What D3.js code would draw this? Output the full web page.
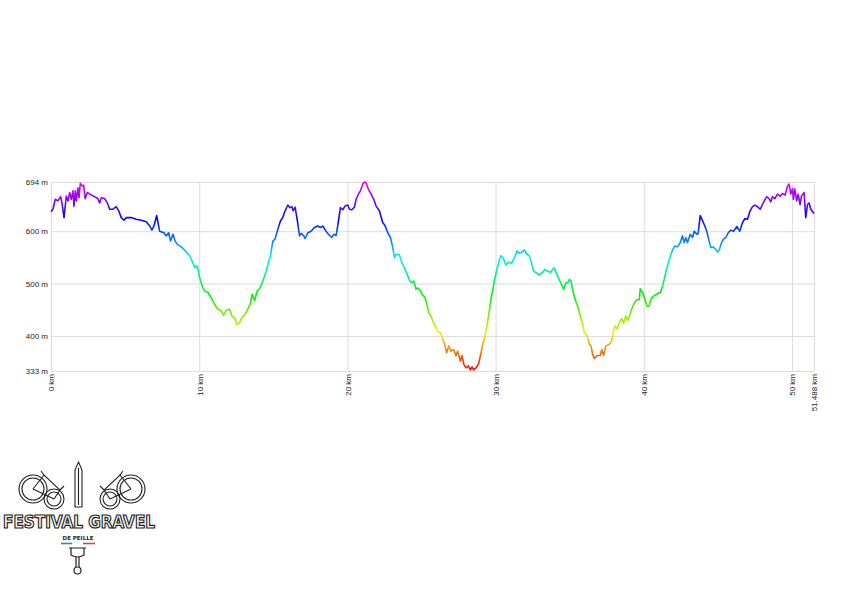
<!DOCTYPE html>
<html>
<head>
<meta charset="utf-8">
<script src="https://cdn.jsdelivr.net/npm/d3@7"></script>
<style>
  html, body { margin: 0; padding: 0; background: #fff; }
  svg { display: block; }
  .tick text { font-family: "Liberation Sans", Arial, sans-serif; font-size: 8px; fill: #222; }
</style>
</head>
<body>
<svg id="chart" width="845" height="592"></svg>
<script>
// ---- data (distance in km, elevation in m) ----
const distanceKm = [
  0,0.13,0.29,0.47,0.65,0.74,0.88,1.03,1.15,1.26,1.37,1.48,1.55,1.64,1.71,1.82,1.89,1.98,2.11,2.20,
  2.31,2.45,2.72,2.95,3.17,3.28,3.39,3.62,3.80,3.96,4.18,4.40,4.57,4.74,4.92,5.08,5.41,5.75,6.09,6.43,
  6.66,6.81,6.95,7.13,7.33,7.62,7.77,7.94,8.07,8.23,8.38,8.52,8.79,9.02,9.24,9.37,9.58,9.73,9.87,10.03,
  10.25,10.36,10.59,10.81,11.04,11.26,11.48,11.65,11.82,12.05,12.21,12.39,12.54,12.72,12.88,13.10,13.33,13.47,13.57,13.74,
  13.91,14.07,14.30,14.52,14.70,14.81,14.97,15.12,15.31,15.49,15.64,15.80,15.98,16.12,16.25,16.34,16.47,16.61,16.77,16.88,
  17.06,17.15,17.33,17.55,17.78,18.00,18.19,18.34,18.56,18.79,18.95,19.08,19.24,19.35,19.53,19.69,19.84,20.03,20.14,20.30,
  20.48,20.59,20.75,20.88,21.04,21.15,21.26,21.42,21.60,21.78,21.94,22.16,22.23,22.39,22.54,22.72,22.91,23.06,23.18,23.28,
  23.51,23.67,23.85,24.03,24.21,24.34,24.48,24.63,24.75,24.93,25.08,25.24,25.37,25.49,25.64,25.76,25.91,26.10,26.28,26.43,
  26.59,26.70,26.84,26.99,27.17,27.33,27.44,27.63,27.74,27.85,28.00,28.17,28.30,28.41,28.52,28.68,28.84,28.98,29.13,29.24,
  29.35,29.47,29.58,29.69,29.80,29.92,30.09,30.26,30.36,30.52,30.70,30.86,31.09,31.27,31.44,31.60,31.76,31.94,32.12,32.28,
  32.43,32.57,32.72,32.95,33.18,33.33,33.51,33.70,33.85,33.97,34.15,34.37,34.59,34.75,34.86,34.98,35.09,35.22,35.36,35.54,
  35.72,35.88,35.99,36.17,36.33,36.44,36.55,36.67,36.84,37.07,37.16,37.29,37.44,37.67,37.83,37.96,38.05,38.19,38.35,38.50,
  38.64,38.79,38.91,39.04,39.18,39.36,39.53,39.70,39.76,39.92,40.07,40.21,40.37,40.48,40.67,40.89,41.12,41.27,41.38,41.56,
  41.72,41.94,42.10,42.28,42.46,42.61,42.73,42.84,42.95,43.14,43.29,43.41,43.58,43.67,43.81,43.97,44.12,44.25,44.42,44.52,
  44.70,44.86,44.98,45.09,45.25,45.38,45.54,45.70,45.87,46.06,46.28,46.48,46.66,46.82,47.00,47.18,47.34,47.49,47.67,47.86,
  48.01,48.17,48.30,48.46,48.57,48.68,48.84,49.02,49.20,49.36,49.54,49.70,49.81,49.92,50.03,50.10,50.19,50.32,50.42,50.55,
  50.64,50.82,50.93,51.05,51.16,51.27,51.488
];
const elevationM = [
  637,642,661,658,666,654,626,667,658,674,661,677,648,677,658,683,664,692,686,688,
  662,674,669,666,662,654,664,662,654,642,642,647,639,626,621,626,626,623,621,618,
  610,602,610,630,600,597,591,597,581,594,581,575,570,564,556,553,539,530,534,511,
  492,486,483,473,460,451,448,439,449,451,438,435,422,425,435,441,454,463,480,467,
  486,490,505,524,543,553,581,585,604,620,626,639,650,645,647,639,646,623,591,596,
  591,586,597,600,607,610,607,610,600,592,588,594,592,610,645,641,648,650,642,641,
  646,661,671,677,690,694,692,680,671,661,648,639,632,616,611,597,588,569,549,556,
  555,540,530,518,505,502,505,489,492,486,478,473,460,444,438,429,419,408,406,394,
  381,368,381,371,374,362,371,352,363,346,339,343,335,341,335,339,346,362,384,394,
  409,428,448,470,486,505,527,546,553,549,535,541,539,549,562,558,560,564,556,553,
  539,524,521,516,522,527,524,521,527,530,516,503,489,502,501,508,505,486,470,457,
  438,422,406,401,384,381,365,357,362,363,374,363,381,384,390,409,419,413,425,433,
  425,438,429,438,451,463,469,469,490,483,471,457,457,470,476,480,483,495,508,530,
  546,564,572,570,578,591,578,588,578,594,588,600,594,596,630,620,610,600,580,569,
  570,565,560,564,578,585,588,597,602,600,609,600,616,624,623,639,647,650,647,642,
  651,660,666,662,656,666,662,671,667,672,669,686,690,671,681,661,681,658,671,651,
  667,674,626,651,654,642,634
];
const yTicks = [333, 400, 500, 600, 694];
const yTickLabels = ["333 m", "400 m", "500 m", "600 m", "694 m"];
const xTicks = [0, 10, 20, 30, 40, 50, 51.488];
const xTickLabels = ["0 km", "10 km", "20 km", "30 km", "40 km", "50 km", "51.488 km"];

const svg = d3.select("#chart");
const plotLeft = 51, plotRight = 814, plotTop = 182, plotBottom = 371;

const x = d3.scaleLinear().domain([0, 51.488]).range([plotLeft, plotRight]);
const y = d3.scaleLinear().domain([333, 694]).range([plotBottom, plotTop]);
const hue = d3.scaleLinear().domain([333, 694]).range([0, 300]);

// grid + y axis
const yAxis = d3.axisLeft(y).tickValues(yTicks)
  .tickFormat((d, i) => yTickLabels[i])
  .tickSize(-(plotRight - plotLeft)).tickPadding(3);
const gy = svg.append("g").attr("transform", `translate(${plotLeft},0)`).call(yAxis);
gy.select(".domain").remove();
gy.selectAll(".tick line").attr("stroke", "#dcdcdc").attr("stroke-width", 1);

// x axis
const xAxis = d3.axisBottom(x).tickValues(xTicks)
  .tickFormat((d, i) => xTickLabels[i])
  .tickSize(-(plotBottom - plotTop)).tickPadding(3);
const gx = svg.append("g").attr("transform", `translate(0,${plotBottom})`).call(xAxis);
gx.select(".domain").remove();
gx.selectAll(".tick line").attr("stroke", "#dcdcdc").attr("stroke-width", 1);
gx.selectAll(".tick text")
  .attr("transform", "rotate(-90)")
  .attr("text-anchor", "end")
  .attr("x", -3).attr("y", 0).attr("dy", "0.35em");

// elevation-coloured gradient
const defs = svg.append("defs");
const grad = defs.append("linearGradient").attr("id", "elevGrad")
  .attr("gradientUnits", "userSpaceOnUse")
  .attr("x1", 0).attr("x2", 0).attr("y1", y(333)).attr("y2", y(694));
d3.range(0, 1.0001, 0.05).forEach(t => {
  const e = 333 + t * (694 - 333);
  grad.append("stop").attr("offset", t)
    .attr("stop-color", d3.hsl(hue(e), 0.95, 0.48).formatHex());
});

const pts = distanceKm.map((d, i) => [d, elevationM[i]]);
const line = d3.line().x(d => x(d[0])).y(d => y(d[1]));
svg.append("path").datum(pts)
  .attr("d", line)
  .attr("fill", "none")
  .attr("stroke", "url(#elevGrad)")
  .attr("stroke-width", 1.6)
  .attr("stroke-linejoin", "round");

// ---- logo ----
const logo = svg.append("g").attr("fill", "none").attr("stroke", "#222").attr("stroke-width", 1.1);
function wheel(cx, cy, r) {
  logo.append("circle").attr("cx", cx).attr("cy", cy).attr("r", r);
  logo.append("circle").attr("cx", cx).attr("cy", cy).attr("r", r - 3);
}
wheel(33, 489, 14);
wheel(54, 499, 10);
logo.append("path").attr("d", "M33,489 L44,475 L60,490 L54,499 M44,475 L41,471 M60,490 L64,486 M33,489 L54,499");
wheel(131, 489, 14);
wheel(110, 499, 10);
logo.append("path").attr("d", "M131,489 L120,475 L104,490 L110,499 M120,475 L123,471 M104,490 L100,486 M131,489 L110,499");
logo.append("path").attr("d", "M78.5,462 L82,470 L82,507 L75,507 L75,470 Z");
logo.append("line").attr("x1", 78.5).attr("y1", 468).attr("x2", 78.5).attr("y2", 505);

svg.append("text").attr("x", 3).attr("y", 528)
  .attr("textLength", 152).attr("lengthAdjust", "spacingAndGlyphs")
  .style("font-family", "'DejaVu Sans Condensed', 'DejaVu Sans', sans-serif")
  .style("font-size", "18px").style("font-weight", "bold")
  .attr("fill", "#fff").attr("stroke", "#222").attr("stroke-width", 1.2)
  .text("FESTIVAL GRAVEL");
svg.append("text").attr("x", 78).attr("y", 540).attr("text-anchor", "middle")
  .style("font-family", "'DejaVu Sans', sans-serif").style("font-size", "5.5px").style("font-weight", "bold")
  .attr("fill", "#222").text("DE PEILLE");
svg.append("line").attr("x1", 61).attr("x2", 72).attr("y1", 543.5).attr("y2", 543.5)
  .attr("stroke", "#3a7bd5").attr("stroke-width", 1.6);
svg.append("line").attr("x1", 83).attr("x2", 95).attr("y1", 543.5).attr("y2", 543.5)
  .attr("stroke", "#e34040").attr("stroke-width", 1.6);
const stem = svg.append("g").attr("fill", "none").attr("stroke", "#222").attr("stroke-width", 1.2);
stem.append("path").attr("d", "M69,548 L86,548 M71,548 L71,555 Q77.5,559 84,555 L84,548");
stem.append("path").attr("d", "M76,557 L76,567 M79,557 L79,567");
stem.append("circle").attr("cx", 77.5).attr("cy", 570.5).attr("r", 3.5);
</script>
</body>
</html>
